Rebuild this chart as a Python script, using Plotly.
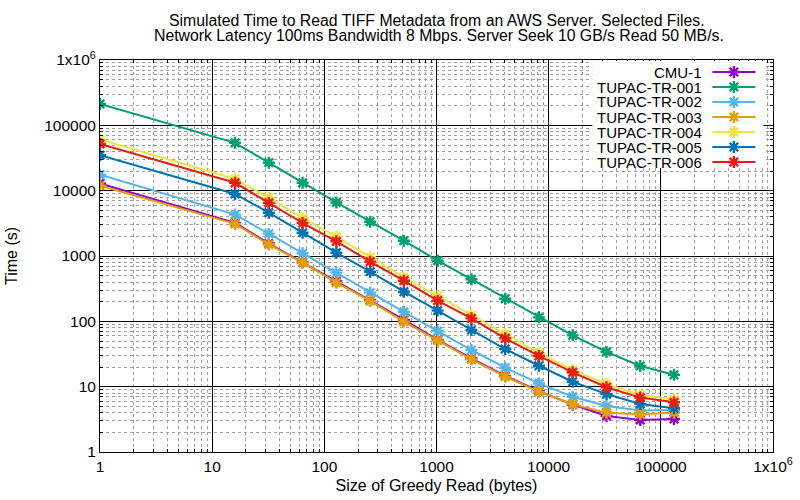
import plotly.graph_objects as go

sizes = [1, 16, 32, 64, 128, 256, 512, 1024, 2048, 4096, 8192, 16384, 32768, 65536, 131072]

names = ["CMU-1", "TUPAC-TR-001", "TUPAC-TR-002", "TUPAC-TR-003",
         "TUPAC-TR-004", "TUPAC-TR-005", "TUPAC-TR-006"]
colors = ["#9400d3", "#009e73", "#56b4e9", "#e69f00", "#f0e442", "#0072b2", "#e51e10"]

cmu_1 = [12900, 3200, 1550, 800, 410, 210, 105, 52, 27, 14.6, 8.5, 5.3, 3.56, 3.09, 3.2]
tr_001 = [212000, 54000, 26800, 13200, 6600, 3350, 1715, 848, 440, 222, 115, 61, 34, 20.7, 15.2]
tr_002 = [17600, 4300, 2200, 1100, 556, 275, 140, 71, 36.4, 19.5, 11.2, 7.0, 5.06, 4.3, 4.4]
tr_003 = [11900, 3100, 1500, 790, 391, 205, 99, 50.6, 26.2, 14.2, 8.4, 5.37, 4.0, 3.78, 4.0]
tr_004 = [61000, 15100, 7800, 3800, 1976, 955, 472, 244, 125, 64, 33, 18, 11, 7.45, 6.4]
tr_005 = [35000, 8900, 4600, 2270, 1124, 575, 284, 146, 73.7, 37.7, 20.9, 11.9, 7.7, 5.43, 4.67]
tr_006 = [51800, 13200, 6500, 3200, 1679, 819, 419, 207, 111, 55, 29.5, 16.6, 9.8, 6.8, 5.76]

series = [cmu_1, tr_001, tr_002, tr_003, tr_004, tr_005, tr_006]

x_tickvals = [1, 10, 100, 1000, 10000, 100000, 1000000]
x_ticktext = ["1", "10", "100", "1000", "10000", "100000", "1x10<sup>6</sup>"]
y_tickvals = [1, 10, 100, 1000, 10000, 100000, 1000000]
y_ticktext = ["1", "10", "100", "1000", "10000", "100000", "1x10<sup>6</sup>"]

title_1 = "Simulated Time to Read TIFF Metadata from an AWS Server. Selected Files."
title_2 = "Network Latency 100ms Bandwidth 8 Mbps. Server Seek 10 GB/s Read 50 MB/s."

FONT = "Liberation Sans"
MSIZE = 10
fig = go.Figure()

for name, vals, col in zip(names, series, colors):
    fig.add_trace(go.Scatter(
        x=sizes, y=vals, name=name, mode="lines+markers",
        line=dict(color=col, width=2),
        marker=dict(symbol="asterisk-open", size=MSIZE, color=col,
                    line=dict(color=col, width=2.4)),
        showlegend=False, xaxis="x", yaxis="y"))

# plot area geometry (px)
L, T, W, H = 100, 60, 672.6, 392.0
def fx(px):
    return (px - L) / W
def fy(py):
    return (T + H - py) / H

# gnuplot-style key: an opaque inset subplot, text right-aligned, sample on the right
KX0, KX1, KY0, KY1 = 592, 763, 61, 168
annotations = []
for i, (name, col) in enumerate(zip(names, colors)):
    py = 72 + 15 * i
    annotations.append(dict(xref="paper", yref="paper", x=fx(704), y=fy(py),
                            text=name, showarrow=False, xanchor="right",
                            yanchor="middle",
                            font=dict(family=FONT, size=15, color="black")))
    fig.add_trace(go.Scatter(x=[712, 755], y=[py, py], mode="lines",
                             line=dict(color=col, width=2), xaxis="x3", yaxis="y3",
                             showlegend=False, hoverinfo="skip"))
    fig.add_trace(go.Scatter(x=[733.5], y=[py], mode="markers", xaxis="x3", yaxis="y3",
                             marker=dict(symbol="asterisk-open", size=MSIZE, color=col,
                                         line=dict(color=col, width=2.4)),
                             showlegend=False, hoverinfo="skip"))

annotations.append(dict(xref="paper", yref="paper", x=fx(437), y=fy(20), text=title_1,
                        showarrow=False, xanchor="center", yanchor="middle",
                        font=dict(family=FONT, size=15.8, color="black")))
annotations.append(dict(xref="paper", yref="paper", x=fx(439), y=fy(35.5), text=title_2,
                        showarrow=False, xanchor="center", yanchor="middle",
                        font=dict(family=FONT, size=15.8, color="black")))

axis_common = dict(
    type="log", range=[0, 6], showline=True, linecolor="black", linewidth=1,
    mirror="ticks", ticks="inside", ticklen=6, tickcolor="black",
    showgrid=True, gridcolor="black", gridwidth=1, zeroline=False,
    automargin=False,
    tickfont=dict(family=FONT, size=15.5, color="black"),
    minor=dict(dtick="D1", ticks="inside", ticklen=3, tickcolor="black",
               showgrid=True, gridcolor="#a0a0a0", griddash="3px,3px", gridwidth=1),
)

fig.update_layout(
    width=800, height=500,
    margin=dict(l=L, r=800 - L - W, t=T, b=500 - T - H),
    paper_bgcolor="white", plot_bgcolor="white",
    font=dict(family=FONT, size=15.5, color="black"),
    xaxis=dict(axis_common, tickvals=x_tickvals, ticktext=x_ticktext,
               title=dict(text="Size of Greedy Read (bytes)", standoff=6,
                          font=dict(family=FONT, size=16))),
    yaxis=dict(axis_common, tickvals=y_tickvals, ticktext=y_ticktext,
               title=dict(text="Time (s)", standoff=22, font=dict(family=FONT, size=16))),
    xaxis3=dict(domain=[fx(KX0), fx(KX1)], range=[KX0, KX1], anchor="y3",
                visible=False, showgrid=False, fixedrange=True),
    yaxis3=dict(domain=[fy(KY1), fy(KY0)], range=[KY1, KY0], anchor="x3",
                visible=False, showgrid=False, fixedrange=True),
    annotations=annotations,
)

fig.write_html("out.html")
